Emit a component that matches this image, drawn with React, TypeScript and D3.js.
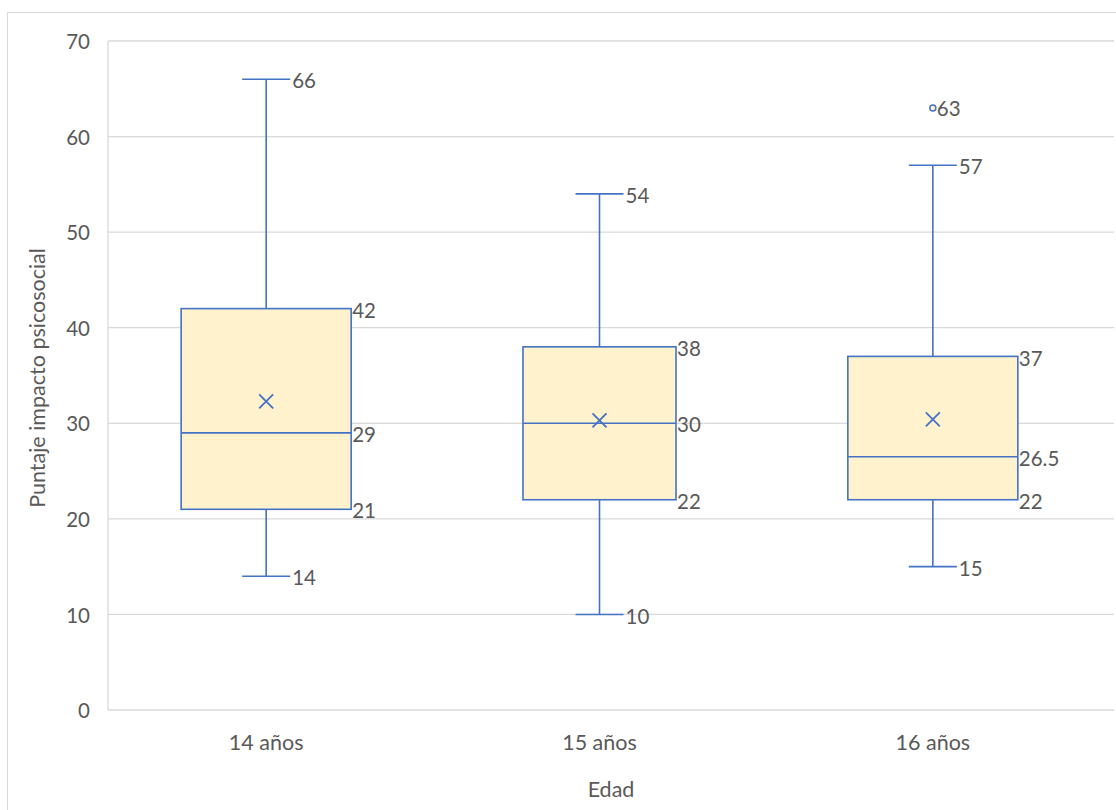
import React from "react";
import * as d3 from "d3";

const categories = ["14 años", "15 años", "16 años"];
const minValues = [14, 10, 15];
const q1Values = [21, 22, 22];
const medianValues = [29, 30, 26.5];
const q3Values = [42, 38, 37];
const maxValues = [66, 54, 57];
const meanValues = [32.3, 30.3, 30.4];
const outliers: [number, number][] = [[2, 63]];
const yTicks = [0, 10, 20, 30, 40, 50, 60, 70];

const W = 1116, H = 810;
const FONT = "Lato, 'Open Sans', sans-serif";
const TEXT = "#595959";
const GRID = "#D9D9D9";
const BLUE = "#4472C4";
const FILL = "#FFF2CC";
const BOX_HALF = [85, 76.5, 85];
const NUM_SIZE = 20.5;
const LABEL_SIZE = 21.5;

export default function App() {
  const y = d3.scaleLinear().domain([0, 70]).range([710, 41]);
  const x = d3.scaleBand<string>().domain(categories).range([99.5, 1099.5]);
  const cx = (i: number) => (x(categories[i]) as number) + x.bandwidth() / 2;
  const capHalf = 24;
  const gridLeft = 108, gridRight = 1114;

  return (
    <svg width={W} height={H} style={{ position: "absolute", left: 0, top: 0, background: "#fff" }} fontFamily={FONT}>
      <rect x={7.5} y={12.5} width={1200} height={900} fill="#fff" stroke={GRID} />
      {yTicks.map((t) => (
        <g key={t}>
          <line x1={gridLeft} x2={gridRight} y1={y(t)} y2={y(t)} stroke={GRID} strokeWidth={1.3} />
          <text x={90} y={y(t) + 1} dy="0.35em" textAnchor="end" fontSize={NUM_SIZE} fill={TEXT}>{t}</text>
        </g>
      ))}
      <line x1={gridLeft} x2={gridLeft} y1={y(70)} y2={y(0)} stroke={GRID} strokeWidth={1.3} />
      {categories.map((c, i) => {
        const m = cx(i);
        const bh = BOX_HALF[i];
        const lab = (xx: number, v: number) => (
          <text x={xx} y={y(v) + 2} dy="0.35em" fontSize={NUM_SIZE} fill={TEXT}>{v}</text>
        );
        return (
          <g key={c}>
            <line x1={m} x2={m} y1={y(maxValues[i])} y2={y(q3Values[i])} stroke={BLUE} strokeWidth={1.6} />
            <line x1={m} x2={m} y1={y(q1Values[i])} y2={y(minValues[i])} stroke={BLUE} strokeWidth={1.6} />
            <line x1={m - capHalf} x2={m + capHalf} y1={y(maxValues[i])} y2={y(maxValues[i])} stroke={BLUE} strokeWidth={1.6} />
            <line x1={m - capHalf} x2={m + capHalf} y1={y(minValues[i])} y2={y(minValues[i])} stroke={BLUE} strokeWidth={1.6} />
            <rect x={m - bh} y={y(q3Values[i])} width={bh * 2} height={y(q1Values[i]) - y(q3Values[i])} fill={FILL} stroke={BLUE} strokeWidth={1.6} />
            <line x1={m - bh} x2={m + bh} y1={y(medianValues[i])} y2={y(medianValues[i])} stroke={BLUE} strokeWidth={1.6} />
            <path d={`M${m - 7},${y(meanValues[i]) - 7}L${m + 7},${y(meanValues[i]) + 7}M${m - 7},${y(meanValues[i]) + 7}L${m + 7},${y(meanValues[i]) - 7}`} stroke={BLUE} strokeWidth={1.8} fill="none" />
            {lab(m + capHalf + 2, maxValues[i])}
            {lab(m + capHalf + 2, minValues[i])}
            {lab(m + bh + 1, q3Values[i])}
            {lab(m + bh + 1, medianValues[i])}
            {lab(m + bh + 1, q1Values[i])}
            <text x={m} y={742} dy="0.35em" textAnchor="middle" fontSize={LABEL_SIZE} fill={TEXT}>{c}</text>
          </g>
        );
      })}
      {outliers.map(([i, v], k) => (
        <g key={k}>
          <circle cx={cx(i)} cy={y(v)} r={3} fill={FILL} stroke={BLUE} strokeWidth={1.5} />
          <text x={cx(i) + 4} y={y(v) + 1} dy="0.35em" fontSize={NUM_SIZE} fill={TEXT}>{v}</text>
        </g>
      ))}
      <text x={611} y={789} dy="0.35em" textAnchor="middle" fontSize={LABEL_SIZE} fill={TEXT}>Edad</text>
      <text transform={`translate(37,378) rotate(-90)`} dy="0.35em" textAnchor="middle" fontSize={LABEL_SIZE} fill={TEXT}>Puntaje impacto psicosocial</text>
    </svg>
  );
}
